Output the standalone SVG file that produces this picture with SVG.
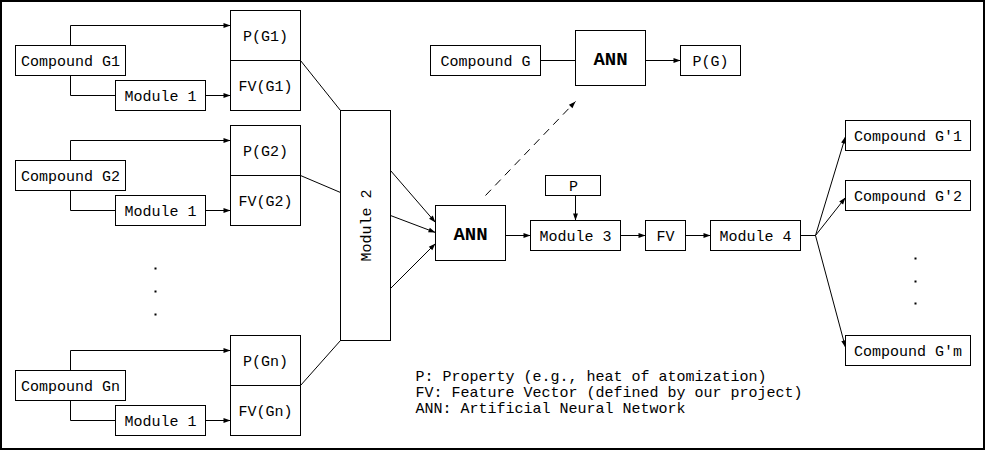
<svg xmlns="http://www.w3.org/2000/svg" width="986" height="451" viewBox="0 0 986 451">
<defs>
<marker id="ah" viewBox="0 0 10 10" refX="10" refY="5" markerWidth="9" markerHeight="7" markerUnits="userSpaceOnUse" orient="auto">
<path d="M0,1.5 L10,5 L0,8.5 z" fill="#000"/>
</marker>
<style>
rect.b{fill:#fff;stroke:#000;stroke-width:1}
text{font-family:"Liberation Mono","Courier New",monospace;font-size:15px;fill:#000}
text.c{text-anchor:middle}
text.ann{font-weight:bold;font-size:19px}
.e{fill:none;stroke:#000;stroke-width:1}
.a{marker-end:url(#ah)}
.d{stroke-dasharray:8,6}
</style>
</defs>
<rect x="0" y="0" width="986" height="451" fill="#fff"/>
<rect x="1" y="1" width="983" height="448" fill="none" stroke="#000" stroke-width="2"/>

<g transform="translate(0.5,0.5)">
<g id="connectors">
<polyline class="e a" points="70,45 70,25 230,25"/>
<polyline class="e" points="70,75 70,95 115,95"/>
<line class="e a" x1="205" y1="95" x2="230" y2="95"/>
<polyline class="e a" points="70,160 70,140 230,140"/>
<polyline class="e" points="70,190 70,210 115,210"/>
<line class="e a" x1="205" y1="210" x2="230" y2="210"/>
<polyline class="e a" points="70,370 70,350 230,350"/>
<polyline class="e" points="70,400 70,420 115,420"/>
<line class="e a" x1="205" y1="420" x2="230" y2="420"/>
<line class="e" x1="300" y1="60" x2="340" y2="110"/>
<line class="e" x1="300" y1="175" x2="340" y2="192"/>
<line class="e" x1="300" y1="385" x2="340" y2="340"/>
<line class="e a" x1="390" y1="170" x2="435" y2="222"/>
<line class="e a" x1="390" y1="215" x2="435" y2="232"/>
<line class="e a" x1="390" y1="288" x2="435" y2="243"/>
<line class="e a d" x1="485" y1="195" x2="575" y2="101"/>
<line class="e" x1="540" y1="60" x2="575" y2="60"/>
<line class="e a" x1="645" y1="60" x2="680" y2="60"/>
<line class="e a" x1="575" y1="195" x2="575" y2="220"/>
<line class="e a" x1="505" y1="235" x2="530" y2="235"/>
<line class="e a" x1="620" y1="235" x2="645" y2="235"/>
<line class="e a" x1="685" y1="235" x2="710" y2="235"/>
<line class="e" x1="800" y1="235" x2="815" y2="235"/>
<line class="e a" x1="815" y1="235" x2="845" y2="136"/>
<line class="e a" x1="815" y1="235" x2="845" y2="197"/>
<line class="e a" x1="815" y1="235" x2="845" y2="347"/>
</g>

<g id="compound-g1"><rect class="b" x="15" y="45" width="110" height="30"/><text class="c" x="70" y="65">Compound G1</text></g>
<g id="module1-g1"><rect class="b" x="115" y="80" width="90" height="30"/><text class="c" x="160" y="100">Module 1</text></g>
<g id="pfv-g1"><rect class="b" x="230" y="10" width="70" height="100"/><line class="e" x1="230" y1="60" x2="300" y2="60"/><text class="c" x="265" y="40">P(G1)</text><text class="c" x="265" y="90">FV(G1)</text></g>

<g id="compound-g2"><rect class="b" x="15" y="160" width="110" height="30"/><text class="c" x="70" y="180">Compound G2</text></g>
<g id="module1-g2"><rect class="b" x="115" y="195" width="90" height="30"/><text class="c" x="160" y="215">Module 1</text></g>
<g id="pfv-g2"><rect class="b" x="230" y="125" width="70" height="100"/><line class="e" x1="230" y1="175" x2="300" y2="175"/><text class="c" x="265" y="155">P(G2)</text><text class="c" x="265" y="205">FV(G2)</text></g>

<g id="compound-gn"><rect class="b" x="15" y="370" width="110" height="30"/><text class="c" x="70" y="390">Compound Gn</text></g>
<g id="module1-gn"><rect class="b" x="115" y="405" width="90" height="30"/><text class="c" x="160" y="425">Module 1</text></g>
<g id="pfv-gn"><rect class="b" x="230" y="335" width="70" height="100"/><line class="e" x1="230" y1="385" x2="300" y2="385"/><text class="c" x="265" y="365">P(Gn)</text><text class="c" x="265" y="415">FV(Gn)</text></g>

<g id="dots-left"><rect x="154" y="267" width="2" height="2"/><rect x="154" y="290" width="2" height="2"/><rect x="154" y="313" width="2" height="2"/></g>

<g id="module2"><rect class="b" x="340" y="110" width="50" height="230"/><text class="c" transform="translate(370,225) rotate(-90)" x="0" y="0">Module 2</text></g>

<g id="ann"><rect class="b" x="435" y="205" width="70" height="55"/><text class="c ann" x="470" y="239">ANN</text></g>

<g id="compound-g"><rect class="b" x="430" y="45" width="110" height="30"/><text class="c" x="485" y="65">Compound G</text></g>
<g id="ann-top"><rect class="b" x="575" y="30" width="70" height="55"/><text class="c ann" x="610" y="64">ANN</text></g>
<g id="pg"><rect class="b" x="680" y="45" width="60" height="30"/><text class="c" x="710" y="65">P(G)</text></g>

<g id="p"><rect class="b" x="545" y="175" width="55" height="20"/><text class="c" x="573" y="190">P</text></g>
<g id="module3"><rect class="b" x="530" y="220" width="90" height="30"/><text class="c" x="575" y="240">Module 3</text></g>
<g id="fv"><rect class="b" x="645" y="220" width="40" height="30"/><text class="c" x="665" y="240">FV</text></g>
<g id="module4"><rect class="b" x="710" y="220" width="90" height="30"/><text class="c" x="755" y="240">Module 4</text></g>

<g id="compound-g1p"><rect class="b" x="845" y="120" width="125" height="30"/><text class="c" x="907.5" y="140">Compound G'1</text></g>
<g id="compound-g2p"><rect class="b" x="845" y="180" width="125" height="30"/><text class="c" x="907.5" y="200">Compound G'2</text></g>
<g id="compound-gmp"><rect class="b" x="845" y="335" width="125" height="30"/><text class="c" x="907.5" y="355">Compound G'm</text></g>

<g id="dots-right"><rect x="914" y="257" width="2" height="2"/><rect x="914" y="280" width="2" height="2"/><rect x="914" y="302" width="2" height="2"/></g>

<g id="legend">
<text x="415" y="380">P: Property (e.g., heat of atomization)</text>
<text x="415" y="396">FV: Feature Vector (defined by our project)</text>
<text x="415" y="412">ANN: Artificial Neural Network</text>
</g>
</g>
</svg>
